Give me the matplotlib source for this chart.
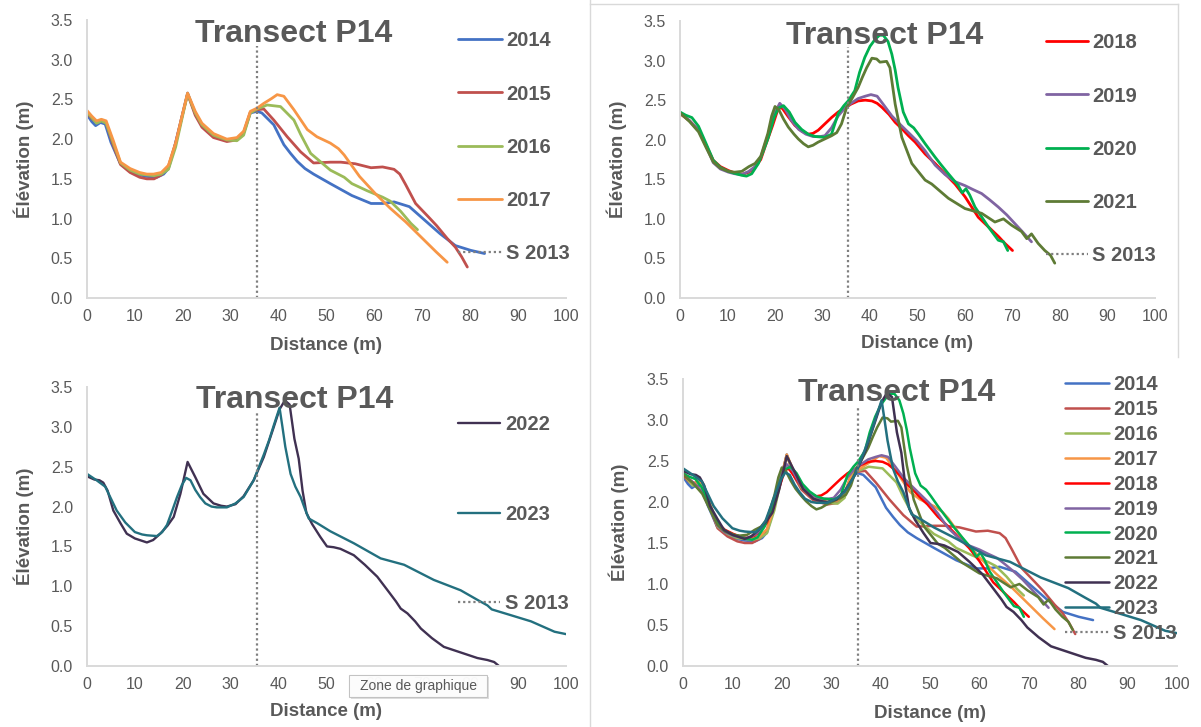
import matplotlib
matplotlib.use("Agg")
import matplotlib.pyplot as plt
from matplotlib.lines import Line2D
from matplotlib.patches import Rectangle

# ---------------- data (distance m, elevation m) ----------------
d2014 = [0, 1, 1.8, 2.8, 3.8, 5, 6.9, 9, 11, 12.5, 14.6, 16, 17, 18.1, 19.5, 21, 22.6, 24, 26.4, 29.2,
         31.3, 32.7, 34.1, 35.5, 36.5, 38, 39, 40, 41.1, 42.5, 43.9, 45.5, 47.3, 50.8, 55.3, 59.3, 61.7,
         64.1, 67.3, 70.5, 73.7, 76.9, 80.1, 83]
e2014 = [2.31, 2.22, 2.17, 2.21, 2.19, 1.96, 1.70, 1.60, 1.55, 1.53, 1.52, 1.56, 1.63, 1.86, 2.20, 2.58,
         2.32, 2.17, 2.04, 1.98, 2.00, 2.08, 2.33, 2.35, 2.33, 2.24, 2.18, 2.06, 1.93, 1.82, 1.72, 1.63,
         1.56, 1.44, 1.29, 1.19, 1.19, 1.21, 1.15, 0.98, 0.81, 0.66, 0.60, 0.56]

d2015 = [0, 1, 2, 3, 4, 5.5, 7, 9, 11, 12.5, 14, 15.5, 17, 18.5, 19.8, 21, 22.6, 24, 26.4, 29.2, 31.3,
         32.7, 34.1, 35.5, 36.9, 39, 41.8, 44.6, 47.3, 50.8, 53, 56, 59.3, 61.7, 64.1, 65.3, 66.5, 68.6,
         71.3, 73, 75.2, 76.9, 78.2, 79.4]
e2015 = [2.33, 2.26, 2.21, 2.24, 2.20, 1.92, 1.68, 1.58, 1.52, 1.50, 1.50, 1.55, 1.66, 1.95, 2.28, 2.57,
         2.30, 2.15, 2.02, 1.97, 1.99, 2.08, 2.34, 2.37, 2.38, 2.24, 2.03, 1.84, 1.70, 1.71, 1.71, 1.69,
         1.64, 1.65, 1.62, 1.56, 1.43, 1.19, 1.02, 0.91, 0.75, 0.64, 0.52, 0.39]

d2016 = [0, 1, 2, 3, 4, 5.5, 7, 9, 11, 12.5, 14, 15.5, 17, 18.5, 19.8, 21, 22.6, 24, 26.4, 29.2, 31.3,
         32.7, 34.1, 35.5, 37.6, 40.4, 43.2, 44.6, 46.7, 50.8, 53.7, 55.3, 58.5, 61.7, 63.3, 65.5, 67.6, 69]
e2016 = [2.34, 2.27, 2.20, 2.23, 2.20, 1.95, 1.70, 1.61, 1.56, 1.55, 1.54, 1.56, 1.62, 1.90, 2.25, 2.57,
         2.33, 2.18, 2.05, 1.99, 1.98, 2.05, 2.33, 2.38, 2.43, 2.41, 2.24, 2.06, 1.82, 1.61, 1.52, 1.44,
         1.35, 1.27, 1.22, 1.09, 0.94, 0.86]

d2017 = [0, 1, 2, 3, 4, 5.5, 7, 9, 11, 12.5, 13.9, 15.5, 17, 18.5, 19.8, 21, 22.6, 24, 26.4, 29.2, 31.3,
         32.7, 34.1, 35.5, 36.9, 38.5, 39.7, 41.1, 43.2, 46, 48, 50.8, 52.5, 53.7, 56.9, 60.1, 63.3, 66.5,
         69.7, 72.9, 75.2]
e2017 = [2.36, 2.29, 2.23, 2.25, 2.23, 1.98, 1.71, 1.63, 1.58, 1.56, 1.56, 1.58, 1.67, 1.95, 2.28, 2.58,
         2.35, 2.20, 2.07, 2.00, 2.02, 2.10, 2.35, 2.39, 2.45, 2.51, 2.56, 2.54, 2.37, 2.12, 2.03, 1.95,
         1.88, 1.80, 1.53, 1.32, 1.13, 0.96, 0.77, 0.58, 0.45]

d2018 = [0, 2, 3.9, 5.5, 7, 8.5, 10.2, 11.5, 13, 14.5, 15.8, 17, 17.9, 19.5, 20.7, 21.5, 22.8, 24.2, 25.6,
         27, 28, 29.1, 30.5, 31.9, 33.3, 34.7, 36, 37.5, 39, 40.4, 41.5, 42.5, 44, 45.3, 46.7, 48.1, 49.5,
         51.6, 53.7, 55.8, 57.9, 60, 61.4, 62.8, 64.2, 65.6, 67, 68.4, 70]
e2018 = [2.33, 2.24, 2.12, 1.93, 1.74, 1.66, 1.61, 1.58, 1.56, 1.59, 1.65, 1.75, 1.91, 2.18, 2.40, 2.40,
         2.29, 2.18, 2.11, 2.07, 2.08, 2.12, 2.20, 2.28, 2.35, 2.40, 2.45, 2.49, 2.50, 2.49, 2.46, 2.41,
         2.32, 2.22, 2.14, 2.05, 1.97, 1.82, 1.70, 1.57, 1.44, 1.28, 1.15, 1.02, 0.94, 0.86, 0.78, 0.69, 0.60]

d2019 = [0, 2, 3.9, 5.5, 7, 8.5, 10.2, 11.5, 13, 14.5, 15.8, 17, 18.5, 19.8, 21, 22.2, 23.5, 25, 26.5, 28,
         29.5, 30.5, 31.9, 33.3, 34.7, 36, 37.5, 39, 40.2, 41.5, 43, 44.6, 46.4, 48.1, 49.8, 51.6, 53.7,
         55.8, 57.9, 60, 61.7, 63.5, 65.2, 67, 68.8, 70.5, 72.2, 74]
e2019 = [2.34, 2.24, 2.12, 1.92, 1.71, 1.63, 1.59, 1.57, 1.56, 1.60, 1.66, 1.78, 2.05, 2.32, 2.46, 2.38,
         2.24, 2.13, 2.07, 2.04, 2.04, 2.05, 2.15, 2.30, 2.40, 2.46, 2.52, 2.55, 2.57, 2.55, 2.43, 2.30,
         2.19, 2.09, 1.99, 1.86, 1.68, 1.56, 1.47, 1.42, 1.37, 1.32, 1.24, 1.15, 1.05, 0.94, 0.83, 0.71]

d2020 = [0, 1.2, 2.5, 3.9, 5.5, 7, 8.5, 10.2, 11.8, 13, 14, 15.1, 16.5, 17.5, 18.6, 19.8, 20.7, 21.8, 23,
         24.2, 25.6, 27, 28.5, 30.5, 31.9, 33.3, 34.5, 35.4, 36.8, 37.8, 38.9, 40, 41.1, 42, 42.8, 43.8,
         44.6, 45.3, 45.9, 47, 48.1, 49.2, 50.2, 51.6, 53.7, 55, 56.5, 58.6, 59.4, 60.2, 61, 62.1, 64.9,
         67, 68.1, 69]
e2020 = [2.35, 2.31, 2.28, 2.17, 1.95, 1.74, 1.65, 1.60, 1.57, 1.55, 1.54, 1.57, 1.70, 1.85, 2.03, 2.28,
         2.40, 2.43, 2.35, 2.22, 2.13, 2.07, 2.04, 2.03, 2.07, 2.33, 2.43, 2.49, 2.62, 2.85, 3.04, 3.18,
         3.27, 3.32, 3.32, 3.24, 3.08, 2.88, 2.66, 2.35, 2.20, 2.15, 2.07, 1.95, 1.78, 1.68, 1.57, 1.42,
         1.33, 1.38, 1.30, 1.15, 0.90, 0.73, 0.71, 0.60]

d2021 = [0, 2, 3.9, 5.5, 7, 8.5, 10.2, 11.5, 13, 14.5, 15.8, 17, 18.5, 19.3, 20, 20.8, 21.8, 22.8, 24, 24.9,
         26, 27, 28, 29.1, 30.5, 31.9, 33, 34, 35.1, 36.3, 37.5, 38.4, 39.3, 40.4, 41.4, 42.1, 43.5, 44.2,
         45.3, 46.7, 48.8, 51.6, 53, 56.5, 60, 63.5, 66.3, 68.1, 69.8, 71.9, 73, 74, 75.4, 76.8, 78, 78.9]
e2021 = [2.34, 2.23, 2.10, 1.90, 1.72, 1.64, 1.60, 1.59, 1.60, 1.66, 1.70, 1.79, 2.08, 2.30, 2.42, 2.38,
         2.26, 2.16, 2.07, 2.01, 1.95, 1.91, 1.93, 1.97, 2.01, 2.05, 2.09, 2.20, 2.41, 2.53, 2.66, 2.79,
         2.91, 3.03, 3.02, 2.98, 2.99, 2.91, 2.45, 2.03, 1.70, 1.49, 1.44, 1.26, 1.13, 1.07, 0.96, 1.00,
         0.92, 0.84, 0.75, 0.81, 0.69, 0.60, 0.54, 0.44]

d2022 = [0, 1.5, 2.6, 3.4, 4.3, 5.5, 7, 8.3, 10, 11.5, 12.5, 13.8, 15.3, 16.8, 18.1, 19.5, 21, 22.6, 24.3,
         26.4, 28, 29.2, 31, 32.7, 34.8, 36.9, 39, 40.2, 41.3, 42.3, 43.3, 44.2, 45, 45.8, 47, 48.7, 50.1,
         51.5, 52.9, 55.7, 58, 60.6, 63, 64.5, 65.5, 66.9, 68.5, 69.7, 72, 74.5, 78, 81.5, 83.6, 85, 86]
e2022 = [2.38, 2.34, 2.33, 2.30, 2.20, 1.95, 1.79, 1.66, 1.60, 1.57, 1.55, 1.58, 1.66, 1.76, 1.87, 2.16,
         2.56, 2.37, 2.16, 2.04, 2.01, 2.00, 2.03, 2.13, 2.33, 2.62, 3.00, 3.22, 3.33, 3.28, 2.85, 2.60,
         2.20, 1.92, 1.78, 1.62, 1.50, 1.49, 1.47, 1.39, 1.27, 1.12, 0.93, 0.81, 0.72, 0.66, 0.56, 0.47,
         0.35, 0.24, 0.17, 0.10, 0.075, 0.05, 0.0]

d2023 = [0, 2, 3.8, 5, 6.2, 8, 10, 11.5, 12.5, 14.6, 15.7, 16.7, 17.8, 18.8, 19.8, 20.7, 21.6, 22.6, 23.6,
         24.7, 26, 27.1, 29.2, 31, 32.7, 34.8, 36.9, 38, 39, 40.2, 40.8, 41.4, 42.5, 43.5, 44.6, 45.5, 46.3,
         48.1, 50.8, 55.7, 61.3, 66.2, 72.4, 78, 81.5, 83.6, 84.5, 87.8, 92.7, 97.6, 100]
e2023 = [2.41, 2.33, 2.25, 2.10, 1.95, 1.80, 1.68, 1.65, 1.64, 1.63, 1.68, 1.77, 1.95, 2.12, 2.27, 2.36,
         2.33, 2.21, 2.12, 2.04, 2.00, 1.99, 1.99, 2.04, 2.12, 2.33, 2.65, 2.83, 3.02, 3.24, 3.00, 2.75,
         2.41, 2.25, 2.12, 1.97, 1.85, 1.79, 1.69, 1.54, 1.35, 1.27, 1.08, 0.95, 0.83, 0.76, 0.71, 0.65,
         0.56, 0.43, 0.40]

s2013_d = [35.4, 35.4]
s2013_e = [0.0, 3.17]

years = ["2014", "2015", "2016", "2017", "2018", "2019", "2020", "2021", "2022", "2023"]
xticks = [0, 10, 20, 30, 40, 50, 60, 70, 80, 90, 100]
yticks = [0.0, 0.5, 1.0, 1.5, 2.0, 2.5, 3.0, 3.5]
title_text = "Transect P14"
xlabel_text = "Distance (m)"
ylabel_text = "Élévation (m)"
tooltip_text = "Zone de graphique"

# ---------------- styling ----------------
series = {
    "2014": (d2014, e2014, "#4472C4"),
    "2015": (d2015, e2015, "#C0504D"),
    "2016": (d2016, e2016, "#9BBB59"),
    "2017": (d2017, e2017, "#F79646"),
    "2018": (d2018, e2018, "#FF0000"),
    "2019": (d2019, e2019, "#8064A2"),
    "2020": (d2020, e2020, "#00B050"),
    "2021": (d2021, e2021, "#5E7B35"),
    "2022": (d2022, e2022, "#403152"),
    "2023": (d2023, e2023, "#23707F"),
}

plt.rcParams['font.family'] = ['Liberation Sans', 'DejaVu Sans']
TXT = "#595959"
GRID = "#D9D9D9"
W, H = 1201, 727

fig = plt.figure(figsize=(W / 100, H / 100), dpi=100)
fig.patch.set_facecolor("white")


def fx(px):
    return px / W


def fy(py):
    return 1 - py / H


def make_axes(x0, x1, ytop, ybot):
    return fig.add_axes([fx(x0), fy(ybot), (x1 - x0) / W, (ybot - ytop) / H])


panels = [
    # axes px (x0, x1, ytop, ybot), years, title center, legend (x, top, fontsize, labelspacing, hl, htp)
    dict(box=(87, 566, 20, 298), yrs=years[0:4], title=(294, 33.5),
         leg=(458, 31.5, 14.5, 1.69, 2.19, 0.2), lw=2.0, ylx=24, xly=345),
    dict(box=(680, 1155, 21, 298), yrs=years[4:8], title=(885, 36),
         leg=(1046, 33.5, 14.5, 1.69, 2.07, 0.23), lw=2.0, ylx=617, xly=343),
    dict(box=(87, 566, 387, 666), yrs=years[8:10], title=(295, 400),
         leg=(458, 415.5, 14.5, 3.48, 2.09, 0.25), lw=1.7, ylx=24, xly=711),
    dict(box=(683, 1177, 379, 666), yrs=years, title=(897, 392.5),
         leg=(1065, 375.5, 14.5, 0.29, 2.19, 0.2), lw=1.8, ylx=619, xly=713),
]

for p in panels:
    x0, x1, yt, yb = p["box"]
    ax = make_axes(x0, x1, yt, yb)
    handles = []
    for y in p["yrs"]:
        d, e, c = series[y]
        ln, = ax.plot(d, e, color=c, lw=p["lw"], solid_capstyle="round", label=y)
        handles.append(ln)
    sl, = ax.plot(s2013_d, s2013_e, color="#7F7F7F", lw=1.6, linestyle=(0, (1, 1.3)), label="S 2013")
    handles.append(sl)

    ax.set_xlim(0, 100)
    ax.set_ylim(0, 3.5)
    ax.set_xticks(xticks)
    ax.set_yticks(yticks)
    ax.set_yticklabels([f"{v:.1f}" for v in yticks])
    for s in ("top", "right"):
        ax.spines[s].set_visible(False)
    for s in ("left", "bottom"):
        ax.spines[s].set_color(GRID)
        ax.spines[s].set_linewidth(1.4)
    ax.tick_params(length=0, labelsize=11.5, labelcolor=TXT)
    ax.tick_params(axis="x", pad=8)
    ax.tick_params(axis="y", pad=10)

    ax.set_xlabel(xlabel_text, fontsize=13.5, fontweight="bold", color=TXT)
    ax.xaxis.set_label_coords(0.5, (yb - p["xly"]) / (yb - yt))
    ax.xaxis.label.set_va("center")
    ax.set_ylabel(ylabel_text, fontsize=13.5, fontweight="bold", color=TXT)
    ax.yaxis.set_label_coords((p["ylx"] - x0) / (x1 - x0), 0.5)
    ax.yaxis.label.set_va("center")

    lx, ltop, lfs, lsp, hl, htp = p["leg"]
    leg = ax.legend(handles=handles, loc="upper left", bbox_to_anchor=(fx(lx), fy(ltop)),
                    bbox_transform=fig.transFigure, frameon=False, borderpad=0, borderaxespad=0,
                    labelspacing=lsp, handlelength=hl, handletextpad=htp,
                    prop={"weight": "bold", "size": lfs})
    for t in leg.get_texts():
        t.set_color(TXT)

    tx, ty = p["title"]
    fig.text(fx(tx), fy(ty), title_text, ha="center", va="center", fontsize=23,
             fontweight="bold", color=TXT, zorder=10)

# panel frames (light grey borders of the original chart objects)
frame_lines = [
    ((590, 590), (0, 727)),
    ((590, 1178), (4, 4)),
    ((1178, 1178), (4, 357)),
]
for xs, ys in frame_lines:
    fig.add_artist(Line2D([fx(v) for v in xs], [fy(v) for v in ys], transform=fig.transFigure,
                          color=GRID, lw=1.0))

# "Zone de graphique" tooltip
tx0, tx1, ty0, ty1 = 349, 487, 675, 697
fig.add_artist(Rectangle((fx(tx0 + 2), fy(ty1 + 2)), (tx1 - tx0) / W, (ty1 - ty0) / H,
                         transform=fig.transFigure, facecolor="#C8C8C8", edgecolor="none",
                         alpha=0.6, zorder=20))
fig.add_artist(Rectangle((fx(tx0), fy(ty1)), (tx1 - tx0) / W, (ty1 - ty0) / H,
                         transform=fig.transFigure, facecolor="white", edgecolor="#BFBFBF",
                         lw=0.8, alpha=0.93, zorder=21))
fig.text(fx((tx0 + tx1) / 2), fy((ty0 + ty1) / 2), tooltip_text, ha="center", va="center",
         fontsize=10, color=TXT, zorder=22)

fig.savefig("out.png", dpi=100, facecolor="white")
